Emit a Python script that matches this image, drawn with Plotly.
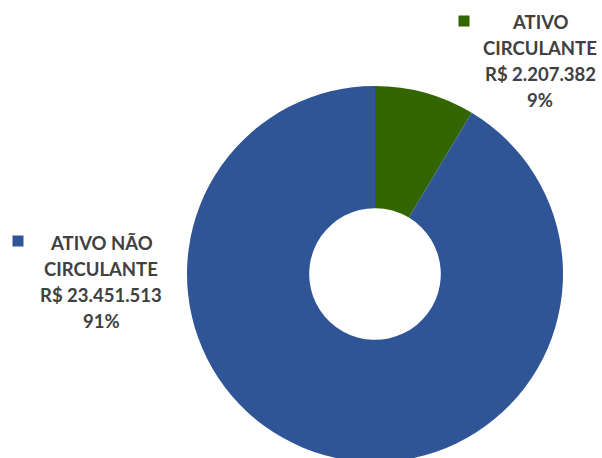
import plotly.graph_objects as go

labels = ["ATIVO CIRCULANTE", "ATIVO NÃO CIRCULANTE"]
label_lines = [["ATIVO", "CIRCULANTE"], ["ATIVO NÃO", "CIRCULANTE"]]
values = [2207382, 23451513]
colors = ["#336600", "#2F5597"]

W, H = 602, 462
total = sum(values)

def brl(v):
    return "R$ " + f"{v:,}".replace(",", ".")

fig = go.Figure(go.Pie(
    labels=labels, values=values, hole=0.35, sort=False,
    direction="clockwise", rotation=0,
    marker=dict(colors=colors, line=dict(color="white", width=0)),
    textinfo="none", hoverinfo="label+value+percent", showlegend=False,
    domain=dict(x=[(375 - 188) / W, (375 + 188) / W], y=[0, 376 / H]),
))

# label positions (px): center x, first line y, square x, square y
pos = [(540, 22, 464, 21), (101, 243, 18, 241)]
line_gap = 26
anns = []
shapes = []
for i, (cx, y0, sx, sy) in enumerate(pos):
    lines = label_lines[i] + [brl(values[i]), f"{round(values[i] / total * 100)}%"]
    for j, t in enumerate(lines):
        anns.append(dict(x=cx / W, y=1 - (y0 + j * line_gap) / H, xref="paper", yref="paper",
                         text=f"<b>{t}</b>", showarrow=False, xanchor="center", yanchor="middle",
                         font=dict(family="Lato", size=18.5, color="#404040")))
    shapes.append(dict(type="rect", xref="paper", yref="paper",
                       x0=(sx - 5.5) / W, x1=(sx + 5.5) / W, y0=1 - (sy + 5.5) / H, y1=1 - (sy - 5.5) / H,
                       fillcolor=colors[i], line=dict(width=0)))

fig.update_layout(width=W, height=H, margin=dict(l=0, r=0, t=0, b=0),
                  paper_bgcolor="white", plot_bgcolor="white",
                  annotations=anns, shapes=shapes)
fig.write_html("out.html", config={"displayModeBar": False},
               post_script="document.body.style.margin='0';document.body.style.overflow='hidden';")
